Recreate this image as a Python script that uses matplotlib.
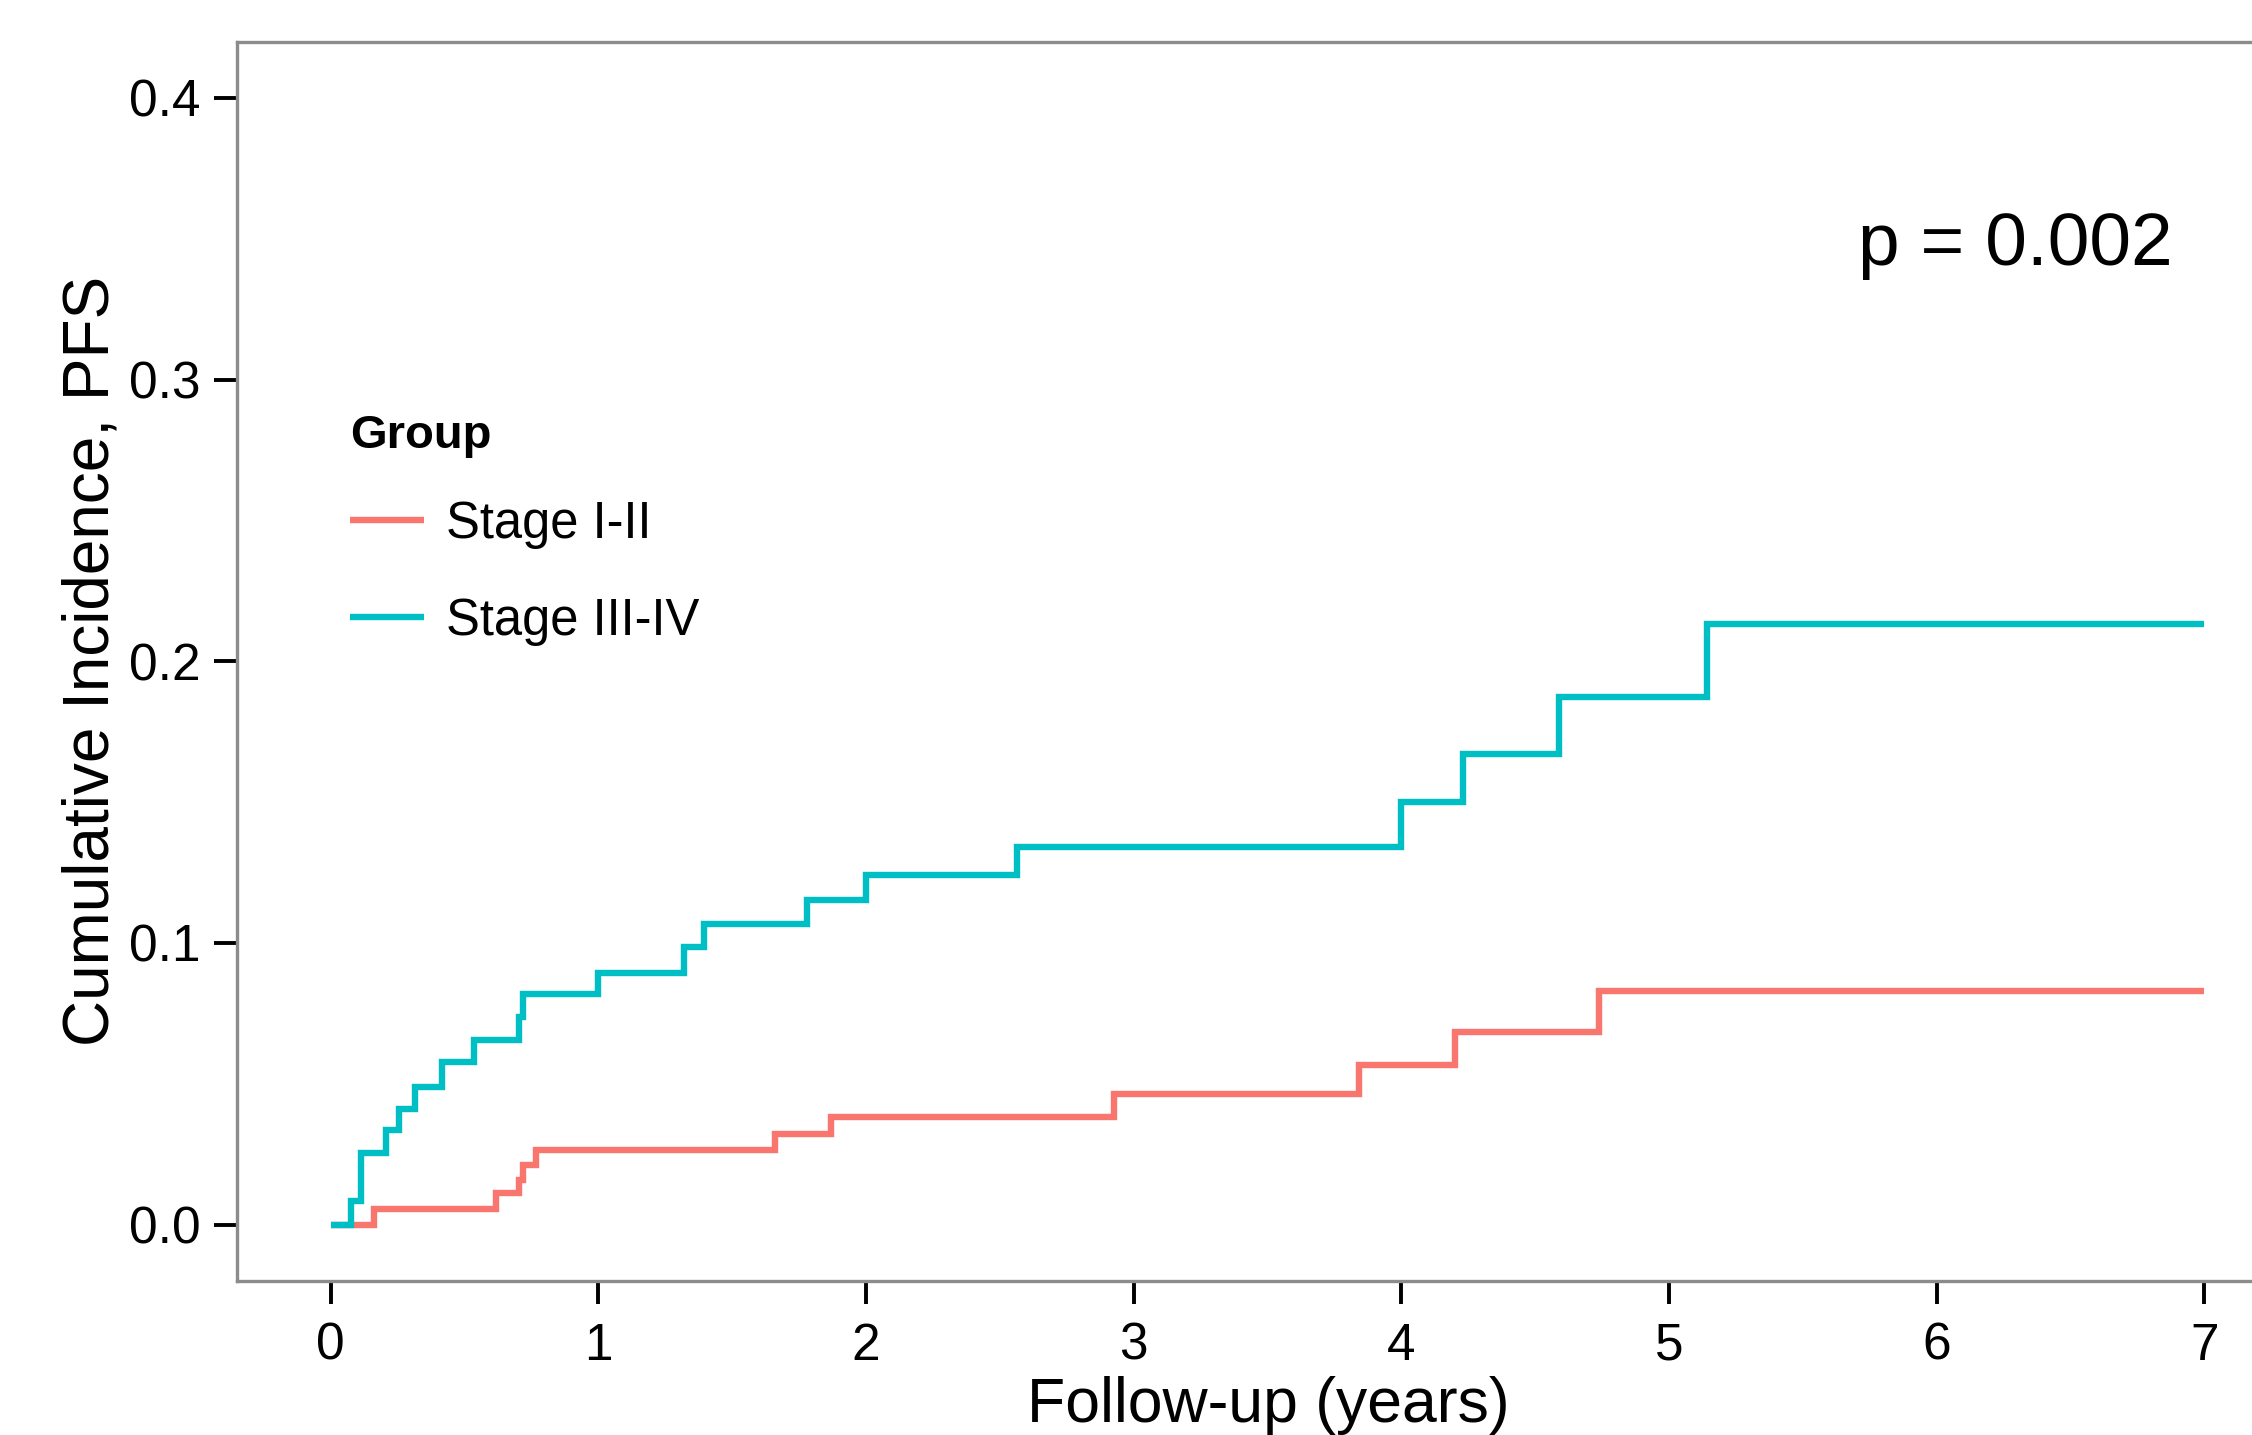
import matplotlib
matplotlib.use("Agg")
import matplotlib.pyplot as plt

plt.rcParams["font.family"] = ["Liberation Sans", "DejaVu Sans"]

# step curves (years, cumulative incidence)
stage12_t = [0, 0.162, 0.616, 0.704, 0.72, 0.766, 1.66, 1.871, 2.925, 3.84, 4.2, 4.737, 7.0]
stage12_y = [0, 0.0055, 0.0111, 0.016, 0.0211, 0.0264, 0.0323, 0.0382, 0.0465, 0.0567,
             0.0683, 0.083, 0.083]

stage34_t = [0, 0.075, 0.115, 0.207, 0.257, 0.315, 0.417, 0.537, 0.704, 0.717, 1.0,
             1.32, 1.395, 1.78, 2.0, 2.564, 4.0, 4.23, 4.59, 5.142, 7.0]
stage34_y = [0, 0.0085, 0.0255, 0.0335, 0.041, 0.049, 0.0577, 0.0656, 0.0738, 0.082,
             0.0894, 0.0986, 0.1067, 0.1154, 0.124, 0.134, 0.150, 0.167, 0.1874,
             0.2134, 0.2134]

groups = ["Stage I-II", "Stage III-IV"]
colors = ["#F8766D", "#00BFC4"]
x_ticks = [0, 1, 2, 3, 4, 5, 6, 7]
y_ticks = [0.0, 0.1, 0.2, 0.3, 0.4]
p_label = "p = 0.002"

W, H = 2252, 1435
fig = plt.figure(figsize=(W / 100, H / 100), dpi=100)
ax = fig.add_axes([237 / W, 1 - 1281 / H, (2298 - 237) / W, (1281 - 41.6) / H])

ax.step(stage12_t, stage12_y, where="post", color=colors[0], lw=4.6,
        solid_capstyle="butt", solid_joinstyle="miter", label=groups[0])
ax.step(stage34_t, stage34_y, where="post", color=colors[1], lw=4.6,
        solid_capstyle="butt", solid_joinstyle="miter", label=groups[1])

ax.set_xlim(-0.35, 7.35)
ax.set_ylim(-0.02, 0.42)
ax.set_xticks(x_ticks)
ax.set_xticklabels([str(v) for v in x_ticks])
ax.set_yticks(y_ticks)
ax.set_yticklabels([f"{v:.1f}" for v in y_ticks])

for s in ax.spines.values():
    s.set_color("#8c8c8c")
    s.set_linewidth(2.4)
ax.tick_params(axis="both", colors="black", length=16.5, width=2.8, labelsize=37)
ax.tick_params(axis="y", pad=10)
ax.tick_params(axis="x", pad=13)

ax.set_xlabel("Follow-up (years)", fontsize=45)
ax.set_ylabel("Cumulative Incidence, PFS", fontsize=46)
ax.xaxis.set_label_coords(0.5005, -0.077)
ax.yaxis.set_label_coords(-0.056, 0.5)

ax.text(6.88, 0.3407, p_label, fontsize=54, ha="right", va="baseline")

leg = ax.legend(loc="upper left", bbox_to_anchor=(350 / W, 1 - 414 / H),
                bbox_transform=fig.transFigure, frameon=False, fontsize=36.5,
                title="Group", title_fontproperties={"weight": "bold", "size": 34},
                handlelength=1.45, handletextpad=0.45, labelspacing=0.95,
                borderpad=0, borderaxespad=0)
leg._legend_box.align = "left"
leg._legend_box.sep = 30
for h in leg.legend_handles:
    h.set_linewidth(4.6)

fig.savefig("out.png", dpi=100)
